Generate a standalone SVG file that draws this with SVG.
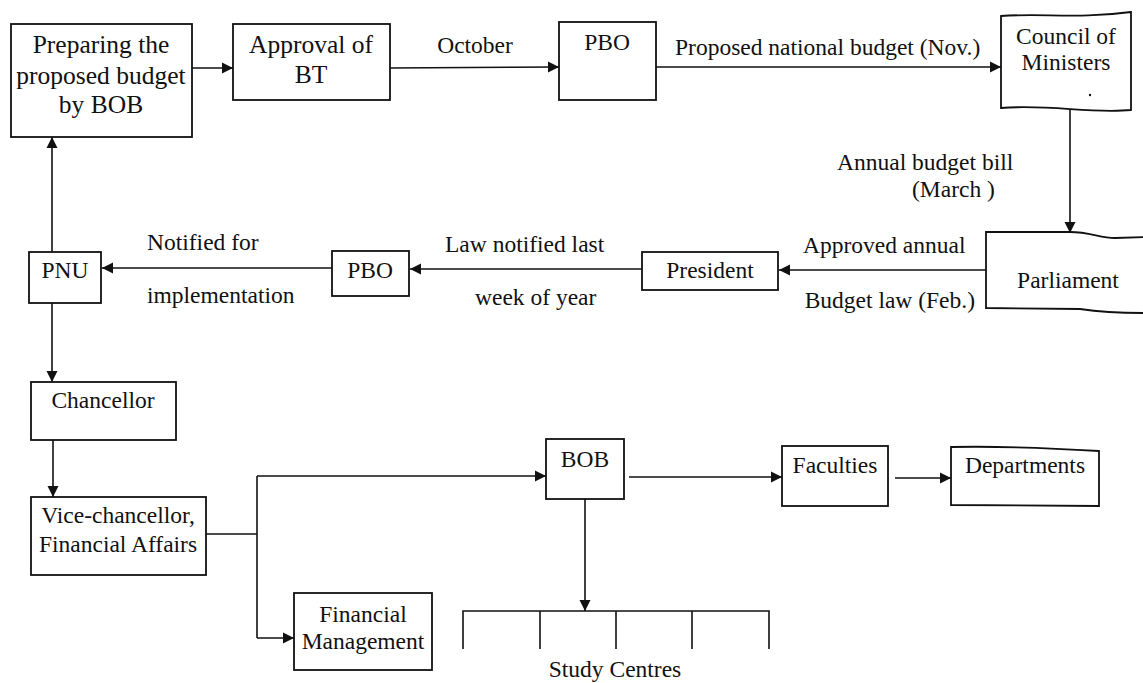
<svg xmlns="http://www.w3.org/2000/svg" width="1143" height="683" viewBox="0 0 1143 683">
<style>
.box{fill:#fff;stroke:#111;stroke-width:1.8}
.ln{fill:none;stroke:#111;stroke-width:1.6}
.t{font-family:"Liberation Serif","Times New Roman",serif;font-size:23.5px;fill:#111}
.tb{font-family:"Liberation Serif","Times New Roman",serif;font-size:25.5px;fill:#111}
.c{text-anchor:middle}
.e{text-anchor:end}
</style>
<defs>
<marker id="ah" markerUnits="userSpaceOnUse" markerWidth="12" markerHeight="12" refX="11" refY="6" orient="auto">
<path d="M0,0.5 L11,6 L0,11.5 z" fill="#111"/>
</marker>
</defs>
<rect width="1143" height="683" fill="#fff"/>
<g id="connectors">
<path class="ln" d="M192,68 L233,68" marker-end="url(#ah)"/>
<path class="ln" d="M390,68 L559,67" marker-end="url(#ah)"/>
<path class="ln" d="M656,67 L1001,67" marker-end="url(#ah)"/>
<path class="ln" d="M1070,110 L1070,233" marker-end="url(#ah)"/>
<path class="ln" d="M986,270 L779,270" marker-end="url(#ah)"/>
<path class="ln" d="M642,269 L410,269" marker-end="url(#ah)"/>
<path class="ln" d="M332,268 L102,268" marker-end="url(#ah)"/>
<path class="ln" d="M52,252 L52,137" marker-end="url(#ah)"/>
<path class="ln" d="M52,303 L52,382" marker-end="url(#ah)"/>
<path class="ln" d="M53,440 L53,497" marker-end="url(#ah)"/>
<path class="ln" d="M190,534 L257,534"/>
<path class="ln" d="M257,476 L257,638"/>
<path class="ln" d="M257,476 L546,476" marker-end="url(#ah)"/>
<path class="ln" d="M257,638 L294,638" marker-end="url(#ah)"/>
<path class="ln" d="M629,477 L782,477" marker-end="url(#ah)"/>
<path class="ln" d="M895,478 L951,478" marker-end="url(#ah)"/>
<path class="ln" d="M585,499 L585,611" marker-end="url(#ah)"/>
<text class="t c" x="475" y="53">October</text>
<text class="t" x="675" y="55">Proposed national budget (Nov.)</text>
<text class="t" x="837" y="170">Annual budget bill</text>
<text class="t" x="912" y="197">(March )</text>
<text class="t" x="803" y="253">Approved annual</text>
<text class="t e" x="975" y="308">Budget law (Feb.)</text>
<text class="t" x="445" y="252">Law notified last</text>
<text class="t" x="475" y="305">week of year</text>
<text class="t" x="147" y="250">Notified for</text>
<text class="t" x="147" y="303">implementation</text>
</g>
<g id="n-prepare">
<rect class="box" x="11" y="24" width="181" height="113"/>
<text class="tb c" x="101" y="53">Preparing the</text>
<text class="tb c" x="101" y="84">proposed budget</text>
<text class="tb c" x="101" y="113">by BOB</text>
</g>
<g id="n-approval">
<rect class="box" x="233" y="24" width="157" height="76"/>
<text class="tb c" x="311" y="53">Approval of</text>
<text class="tb c" x="311" y="83">BT</text>
</g>
<g id="n-pbo1">
<rect class="box" x="559" y="22" width="97" height="78"/>
<text class="t c" x="607" y="50">PBO</text>
</g>
<g id="n-council">
<path class="box" d="M1001,16 C1040,13 1080,19 1131,12 L1131,110 C1090,114 1050,104 1001,108 Z"/>
<text class="t c" x="1066" y="44">Council of</text>
<text class="t c" x="1066" y="70">Ministers</text>
<circle cx="1090" cy="95" r="1.2" fill="#111"/>
</g>
<g id="n-parliament">
<path class="box" d="M1145,237 L1115,238 C1100,238 1090,232 1070,232 L986,232 L986,308 L1080,309 C1100,312 1115,313 1145,313"/>
<text class="t c" x="1068" y="288">Parliament</text>
</g>
<g id="n-president">
<rect class="box" x="642" y="252" width="136" height="38"/>
<text class="t c" x="710" y="278">President</text>
</g>
<g id="n-pbo2">
<rect class="box" x="332" y="251" width="77" height="45"/>
<text class="t c" x="370" y="278">PBO</text>
</g>
<g id="n-pnu">
<rect class="box" x="29" y="252" width="72" height="51"/>
<text class="t c" x="65" y="278">PNU</text>
</g>
<g id="n-chancellor">
<rect class="box" x="31" y="382" width="145" height="58"/>
<text class="t c" x="103" y="408">Chancellor</text>
</g>
<g id="n-vc">
<rect class="box" x="31" y="497" width="175" height="78"/>
<text class="t c" x="118" y="523">Vice-chancellor,</text>
<text class="t c" x="118" y="552">Financial Affairs</text>
</g>
<g id="n-fm">
<rect class="box" x="294" y="593" width="138" height="77"/>
<text class="t c" x="363" y="622">Financial</text>
<text class="t c" x="363" y="649">Management</text>
</g>
<g id="n-bob">
<rect class="box" x="546" y="439" width="78" height="60"/>
<text class="t c" x="585" y="467">BOB</text>
</g>
<g id="n-faculties">
<rect class="box" x="782" y="446" width="106" height="60"/>
<text class="t c" x="835" y="473">Faculties</text>
</g>
<g id="n-departments">
<path class="box" d="M951,447 C1000,446 1050,448 1099,451 L1099,506 L951,505 Z"/>
<text class="t c" x="1025" y="473">Departments</text>
</g>
<g id="n-study">
<path class="ln" d="M463,649 L463,611 L769,611 L769,649 M540,611 L540,649 M616,611 L616,649 M692,611 L692,649"/>
<text class="t c" x="615" y="677">Study Centres</text>
</g>
</svg>
